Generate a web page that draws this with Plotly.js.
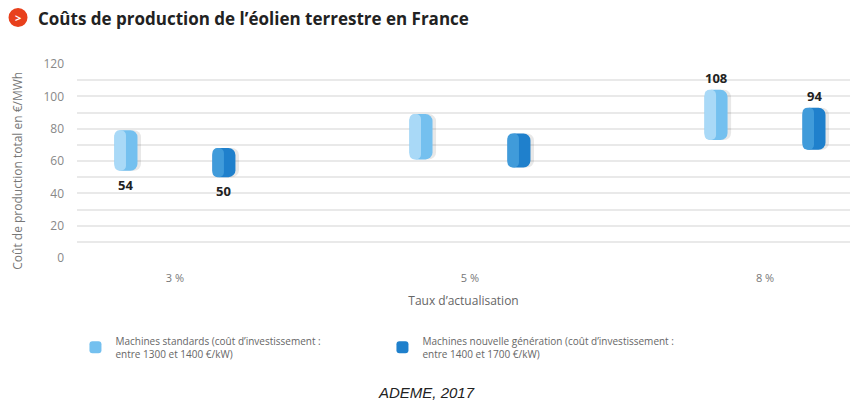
<!DOCTYPE html>
<html>
<head>
<meta charset="utf-8">
<script src="https://cdn.plot.ly/plotly-3.0.1.min.js"></script>
<style>
  body { margin: 0; background: #fff; }
  #chart { width: 853px; height: 405px; }
</style>
</head>
<body>
<div id="chart"></div>
<script>
// taux d'actualisation
const rates = ['3 %', '5 %', '8 %'];

// machines standards (bas / haut de la fourchette)
const stdLow = [54, 61, 73];
const stdHigh = [79, 89, 104];

// machines nouvelle generation
const newLow = [50, 56, 67];
const newHigh = [68, 77, 93];

// chiffres imprimes sur le graphique
const stdLabels = ['54', '', '108'];
const newLabels = ['50', '', '94'];

const barW = 0.078;
const stdOff = -0.166;
const newOff = 0.166;

function pill(lo, hi, center, width, color, name, legend, shift) {
  return {
    type: 'bar', x: rates, base: lo, y: hi.map((v, i) => v - lo[i]),
    width: width, offset: center - barW / 2 + (shift || 0),
    marker: { color: color, cornerradius: 7 },
    hoverinfo: 'skip', name: name, legendgroup: name, showlegend: legend
  };
}

const stdName = 'Machines standards (coût d\u2019investissement :<br>entre 1300 et 1400 €/kW)';
const newName = 'Machines nouvelle génération (coût d\u2019investissement :<br>entre 1400 et 1700 €/kW)';

let data = [
  // ombre legere
  pill(stdLow, stdHigh, stdOff, barW, 'rgba(0,0,0,0.09)', 'ombre', false, 0.012),
  pill(newLow, newHigh, newOff, barW, 'rgba(0,0,0,0.09)', 'ombre', false, 0.012),
  pill(stdLow, stdHigh, stdOff, barW, '#74c0ef', stdName, true),
  pill(stdLow, stdHigh, stdOff, barW / 2, '#a9d9f7', stdName, false),
  pill(newLow, newHigh, newOff, barW, '#1f80cc', newName, true),
  pill(newLow, newHigh, newOff, barW / 2, '#409bda', newName, false)
];

let annotations = [];
function addLabels(labels, lo, hi, off) {
  labels.forEach((t, i) => {
    if (!t) return;
    const below = i === 0;
    annotations.push({
      xref: 'x', yref: 'y', x: i + off, y: below ? lo[i] : hi[i],
      text: '<b>' + t + '</b>', showarrow: false,
      yshift: below ? -14 : 12,
      font: { family: 'Open Sans', size: 13, color: '#222' }
    });
  });
}
addLabels(stdLabels, stdLow, stdHigh, stdOff);
addLabels(newLabels, newLow, newHigh, newOff);

// titre
annotations.push({
  xref: 'paper', yref: 'paper', x: -0.053, y: 1.237, xanchor: 'left', yanchor: 'middle',
  text: '<b>Coûts de production de l\u2019éolien terrestre en France</b>', showarrow: false,
  font: { family: 'Open Sans', size: 17, color: '#222' }
});
annotations.push({
  xref: 'paper', yref: 'paper', x: -0.0763, y: 1.24, xanchor: 'center', yanchor: 'middle',
  text: '<b>&gt;</b>', showarrow: false,
  font: { family: 'Open Sans', size: 11, color: '#fff' }
});
// titre de l'axe vertical
annotations.push({
  xref: 'paper', yref: 'paper', x: -0.0763, y: 0.45, xanchor: 'center', yanchor: 'middle',
  textangle: -90,
  text: 'Coût de production total en €/MWh', showarrow: false,
  font: { family: 'Open Sans', size: 12, color: '#777' }
});
// source
annotations.push({
  xref: 'paper', yref: 'paper', x: 0.452, y: -0.695, xanchor: 'center', yanchor: 'middle',
  text: '<i>ADEME, 2017</i>', showarrow: false,
  font: { family: 'Liberation Sans', size: 15, color: '#222' }
});

let layout = {
  width: 853,
  height: 405,
  margin: { l: 77, r: 3, t: 64, b: 147 },
  paper_bgcolor: '#fff',
  plot_bgcolor: '#fff',
  barmode: 'overlay',
  showlegend: true,
  legend: {
    orientation: 'h', x: -0.002, y: -0.36, xanchor: 'left', yanchor: 'top',
    entrywidth: 262,
    font: { family: 'Open Sans', size: 10, color: '#666' }
  },
  xaxis: {
    type: 'category',
    range: [-0.332, 2.288],
    showgrid: false, zeroline: false, showline: false, ticks: '',
    ticklabelstandoff: 12,
    tickfont: { family: 'Open Sans', size: 11, color: '#777' },
    title: { text: 'Taux d\u2019actualisation', standoff: 12,
             font: { family: 'Open Sans', size: 12, color: '#666' } }
  },
  yaxis: {
    range: [0, 120],
    dtick: 20,
    showgrid: true, gridcolor: '#e9e9e9', gridwidth: 2,
    minor: { dtick: 10, showgrid: true, gridcolor: '#e9e9e9', gridwidth: 2 },
    zeroline: false, showline: false, ticks: '',
    ticklabelstandoff: 12,
    tickfont: { family: 'Open Sans', size: 12, color: '#888' }
  },
  shapes: [{
    type: 'circle', xref: 'paper', yref: 'paper',
    xsizemode: 'pixel', ysizemode: 'pixel',
    xanchor: -0.0763, yanchor: 1.24,
    x0: -9.5, x1: 9.5, y0: -9.5, y1: 9.5,
    fillcolor: '#e8401c', line: { width: 0 }
  }],
  annotations: annotations
};

Plotly.newPlot('chart', data, layout, { displayModeBar: false, staticPlot: true });
</script>
</body>
</html>
